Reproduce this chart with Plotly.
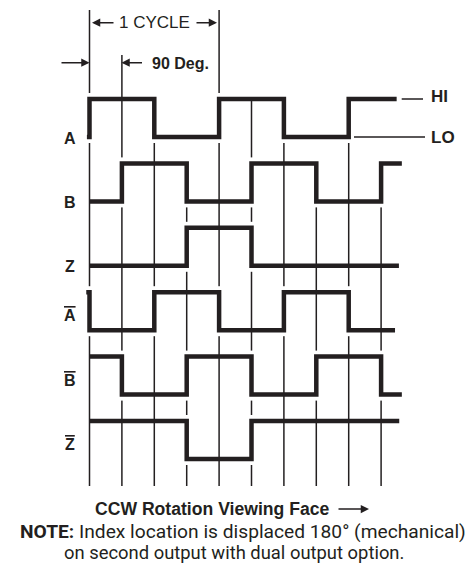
import plotly.graph_objects as go

# ---------------- data ----------------
guide_positions = [0, 1, 2, 3, 4, 5, 6, 7, 8, 9]          # guide lines every 90 electrical degrees
guide_from = ["cycle", "deg90", "A", "B", "cycle", "A", "A", "B", "A", "B"]

signal_keys = ["A", "B", "Z", "Abar", "Bbar", "Zbar"]
signal_labels = ["A", "B", "Z",
                 '<span style="text-decoration:overline">A</span>',
                 '<span style="text-decoration:overline">B</span>',
                 '<span style="text-decoration:overline">Z</span>']
A_edges = [0, 2, 4, 6, 8]
B_edges = [1, 3, 5, 7, 9]
Z_edges = [3, 5]
Abar_edges = [0, 2, 4, 6, 8]
Bbar_edges = [1, 3, 5, 7, 9]
Zbar_edges = [3, 5]
start_state = [0, 0, 0, 1, 1, 1]
start_x = [-0.08, 0, 0, -0.1, 0, 0]
end_x = [9.48, 9.64, 9.55, 9.43, 9.64, 9.56]
edges = [A_edges, B_edges, Z_edges, Abar_edges, Bbar_edges, Zbar_edges]

# ---------------- layout constants ----------------
W, H = 472, 578
PX0, PXU = 89.5, 32.4      # pixel of x=0, pixels per quarter cycle
PY0, PYU = 137.0, 64.4     # pixel of row-A LO level, pixels per row
AMP = 38.0 / PYU           # HI level above LO
PAD = 6.0 / PYU            # knock-out gap around vertical edges
INK = "#231f20"
FONT = "Liberation Sans, Arial, sans-serif"


def px2x(px):
    return (px - PX0) / PXU


def py2y(py):
    return (PY0 - py) / PYU


def row_lo(i):
    return -i


fig = go.Figure()

# guide lines
row_index = {k: i for i, k in enumerate(signal_keys)}
gx, gy = [], []
bottom = py2y(486)
for xg, src in zip(guide_positions, guide_from):
    if src == "cycle":
        top = py2y(10)
    elif src == "deg90":
        top = py2y(55)
    else:
        top = row_lo(row_index[src]) + AMP
    gx += [xg, xg, None]
    gy += [top, bottom, None]
fig.add_trace(go.Scatter(x=gx, y=gy, mode="lines", line=dict(color=INK, width=1.5),
                         hoverinfo="skip", showlegend=False))

# white knock-out around vertical transitions
hx, hy = [], []
for i, ed in enumerate(edges):
    lo, hi = row_lo(i), row_lo(i) + AMP
    for e in ed:
        hx += [e, e, None]
        hy += [lo - PAD, hi + PAD, None]
fig.add_trace(go.Scatter(x=hx, y=hy, mode="lines", line=dict(color="white", width=6),
                         hoverinfo="skip", showlegend=False))

# signals
for i, ed in enumerate(edges):
    lo = row_lo(i)
    state = start_state[i]
    xs = [start_x[i]]
    ys = [lo + AMP * state]
    for e in ed:
        state = 1 - state
        xs.append(e)
        ys.append(lo + AMP * state)
    xs.append(end_x[i])
    ys.append(lo + AMP * state)
    fig.add_trace(go.Scatter(x=xs, y=ys, mode="lines", line=dict(color=INK, width=4.5, shape="hv"),
                             hoverinfo="skip", showlegend=False))

# HI / LO legend lines
fig.add_trace(go.Scatter(x=[px2x(401.7), px2x(423), None, px2x(354), px2x(425)],
                         y=[AMP, AMP, None, 0, 0], mode="lines",
                         line=dict(color=INK, width=1.5), hoverinfo="skip", showlegend=False))

ann = []
# row labels
for i, lab in enumerate(signal_labels):
    if start_state[i] == 0:
        y = row_lo(i) - 1.0 / PYU
    else:
        y = row_lo(i) + 14.5 / PYU
    ann.append(dict(x=px2x(70), y=y, text="<b>%s</b>" % lab, showarrow=False,
                    xanchor="center", yanchor="middle", font=dict(size=16, color=INK, family=FONT)))

ann.append(dict(x=px2x(429), y=AMP + 2.5 / PYU, text="<b>HI</b>", showarrow=False,
                xanchor="left", yanchor="middle", font=dict(size=17, color=INK, family=FONT)))
ann.append(dict(x=px2x(429), y=0, text="<b>LO</b>", showarrow=False,
                xanchor="left", yanchor="middle", font=dict(size=17, color=INK, family=FONT)))

# 1 CYCLE dimension
ycyc = py2y(22.7)
ann.append(dict(x=2, y=py2y(22), text="1 CYCLE", showarrow=False, xanchor="center",
                yanchor="middle", font=dict(size=17, color=INK, family=FONT)))
for tip, tail in [(px2x(92), px2x(115)), (px2x(217), px2x(195))]:
    ann.append(dict(x=tip, y=ycyc, ax=tail, ay=ycyc, axref="x", ayref="y", xref="x", yref="y",
                    text="", showarrow=True, arrowhead=2, arrowsize=1.1, arrowwidth=1.5,
                    arrowcolor=INK))
# 90 Deg dimension
ydeg = py2y(62.7)
for tip, tail in [(px2x(89.5), px2x(60)), (px2x(121.5), px2x(143.5))]:
    ann.append(dict(x=tip, y=ydeg, ax=tail, ay=ydeg, axref="x", ayref="y", xref="x", yref="y",
                    text="", showarrow=True, arrowhead=2, arrowsize=1.1, arrowwidth=1.5,
                    arrowcolor=INK))
ann.append(dict(x=px2x(150), y=py2y(63), text="<b>90 Deg.</b>", showarrow=False, xanchor="left",
                yanchor="middle", font=dict(size=16, color=INK, family=FONT)))

# CCW rotation caption
yccw = py2y(508.5)
ann.append(dict(x=px2x(93), y=yccw, text="<b>CCW Rotation Viewing Face</b>", showarrow=False,
                xanchor="left", yanchor="middle", font=dict(size=17.6, color=INK, family=FONT)))
ann.append(dict(x=px2x(369), y=py2y(509), ax=px2x(337), ay=py2y(509), axref="x", ayref="y",
                xref="x", yref="y", text="", showarrow=True, arrowhead=2, arrowsize=1.1,
                arrowwidth=1.5, arrowcolor=INK))

# NOTE
NFONT = "Roboto, sans-serif"
ann.append(dict(x=243 / W, y=1 - 531 / H, xref="paper", yref="paper",
                text="<b>NOTE:</b> Index location is displaced 180° (mechanical)", showarrow=False,
                xanchor="center", yanchor="middle", font=dict(size=19.2, color=INK, family=NFONT)))
ann.append(dict(x=234 / W, y=1 - 552 / H, xref="paper", yref="paper",
                text="on second output with dual output option.", showarrow=False,
                xanchor="center", yanchor="middle", font=dict(size=18.4, color=INK, family=NFONT)))

fig.update_layout(
    width=W, height=H, margin=dict(l=0, r=0, t=0, b=0),
    paper_bgcolor="white", plot_bgcolor="white",
    xaxis=dict(range=[px2x(0), px2x(W)], visible=False, fixedrange=True),
    yaxis=dict(range=[py2y(H), py2y(0)], visible=False, fixedrange=True),
    annotations=ann, showlegend=False,
)

fig.write_html("out.html", config={"displayModeBar": False},
               post_script="document.body.style.margin='0';")
